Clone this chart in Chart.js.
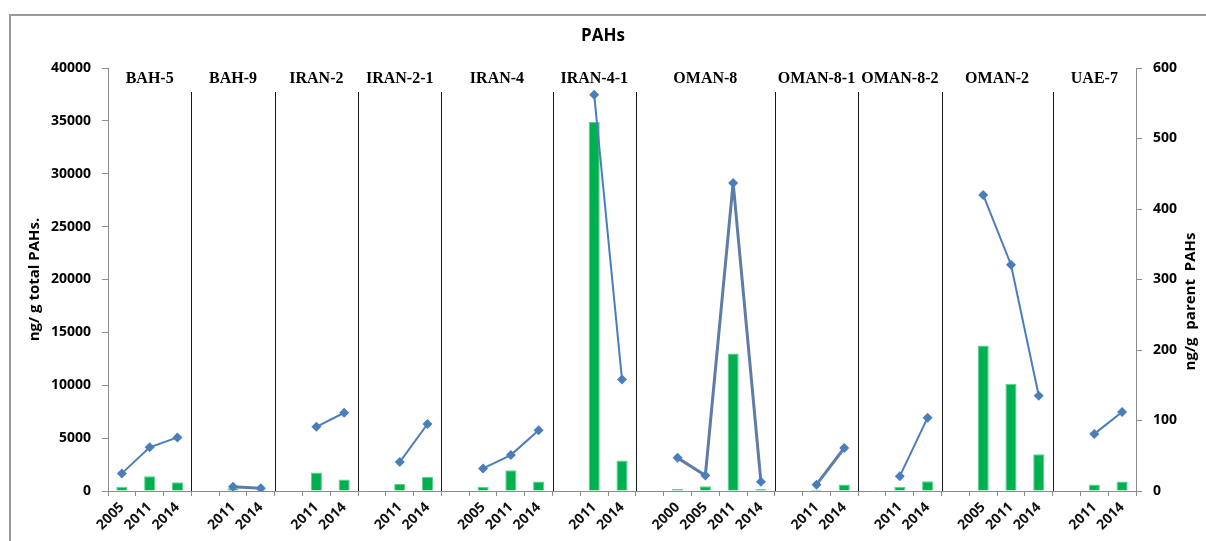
<!DOCTYPE html>
<html>
<head>
<meta charset="utf-8">
<title>PAHs</title>
<script src="https://cdn.jsdelivr.net/npm/chart.js@4.4.1/dist/chart.umd.min.js"></script>
<style>
  html, body { margin: 0; padding: 0; background: #fff; overflow: hidden; }
  #wrap { position: relative; width: 1206px; height: 541px; }
  #frame { position: absolute; left: 9px; top: 14px; width: 1400px; height: 700px;
           border-left: 2px solid #9a9a9a; border-top: 2px solid #9a9a9a; }
  #chart { position: absolute; left: 0; top: 0; }
</style>
</head>
<body>
<div id="wrap">
  <div id="frame"></div>
  <canvas id="chart" width="1206" height="541"></canvas>
</div>
<script>
// Sampling stations, in plotting order
const stations = ['BAH-5', 'BAH-9', 'IRAN-2', 'IRAN-2-1', 'IRAN-4', 'IRAN-4-1',
                  'OMAN-8', 'OMAN-8-1', 'OMAN-8-2', 'OMAN-2', 'UAE-7'];

// Survey years for each station
const years = [
  ['2005', '2011', '2014'],
  ['2011', '2014'],
  ['2011', '2014'],
  ['2011', '2014'],
  ['2005', '2011', '2014'],
  ['2011', '2014'],
  ['2000', '2005', '2011', '2014'],
  ['2011', '2014'],
  ['2011', '2014'],
  ['2005', '2011', '2014'],
  ['2011', '2014']
];

// Total PAHs, ng/g (bars, left axis)
const totalPAHs = [
  [400, 1400, 820],
  [250, 120],
  [1750, 1080],
  [660, 1330],
  [380, 1960, 890],
  [34900, 2880],
  [190, 450, 13000, 190],
  [130, 610],
  [380, 920],
  [13750, 10150, 3480],
  [610, 890]
];

// Parent PAHs, ng/g (line, right axis)
const parentPAHs = [
  [25, 62, 76],
  [6, 4],
  [91, 111],
  [41, 95],
  [32, 51, 86],
  [562, 158],
  [47, 22, 437, 13],
  [9, 61],
  [21, 104],
  [420, 321, 135],
  [81, 112]
];

// Axis tick settings
const leftTicks = { min: 0, max: 40000, step: 5000 };
const rightTicks = { min: 0, max: 600, step: 100 };

// Stations whose parent-PAH line is drawn with a greyer stroke
const greyLineStations = ['BAH-9', 'OMAN-8', 'OMAN-8-1'];

// Flatten groups into one category axis, with an empty slot before every group but the first
const labels = [];
const barData = [];
const lineData = [];
const groupOf = [];
const groupSpans = [];
stations.forEach((st, g) => {
  const start = labels.length;
  if (g > 0) { labels.push(''); barData.push(null); lineData.push(null); groupOf.push(g); }
  years[g].forEach((y, i) => {
    labels.push(y);
    barData.push(totalPAHs[g][i]);
    lineData.push(parentPAHs[g][i]);
    groupOf.push(g);
  });
  groupSpans.push({ name: st, first: start, last: labels.length - 1 });
});

const SANS = "'Open Sans', 'Liberation Sans', sans-serif";
const TICK_FONT = { family: SANS, size: 14, weight: 'bold' };
const X_FONT = { family: SANS, size: 14, weight: 'bold' };

// Station separators, station names and rotated axis titles
const stationPlugin = {
  id: 'stations',
  beforeDatasetsDraw(chart) {
    const { ctx, chartArea } = chart;
    const x = chart.scales.x;
    ctx.save();
    ctx.strokeStyle = '#1a1a1a';
    ctx.lineWidth = 1;
    for (let g = 0; g < groupSpans.length - 1; g++) {
      const idx = groupSpans[g].last;
      const px = Math.round((x.getPixelForValue(idx) + x.getPixelForValue(idx + 1)) / 2) + 0.5;
      ctx.beginPath();
      ctx.moveTo(px, chartArea.top + 24);
      ctx.lineTo(px, chartArea.bottom);
      ctx.stroke();
    }
    ctx.restore();
  },
  afterDraw(chart) {
    const { ctx, chartArea } = chart;
    const x = chart.scales.x;
    ctx.save();
    ctx.fillStyle = '#000';
    ctx.font = "bold 16px 'Liberation Serif', 'Times New Roman', serif";
    ctx.textAlign = 'center';
    ctx.textBaseline = 'middle';
    groupSpans.forEach(s => {
      const cx = (x.getPixelForValue(s.first) + x.getPixelForValue(s.last)) / 2;
      ctx.fillText(s.name, cx, chartArea.top + 11);
    });

    const midY = (chartArea.top + chartArea.bottom) / 2;
    ctx.font = 'bold 15px ' + SANS;
    ctx.save();
    ctx.translate(35, midY);
    ctx.rotate(-Math.PI / 2);
    ctx.fillText('ng/ g total PAHs.', 0, 0);
    ctx.restore();
    ctx.save();
    ctx.translate(1191, midY + 22);
    ctx.rotate(-Math.PI / 2);
    ctx.fillText('ng/g  parent  PAHs', 0, 0);
    ctx.restore();
    ctx.restore();
  }
};

const axisGrid = { drawOnChartArea: false, drawTicks: true, tickLength: 6, color: '#8c8c8c' };
const axisBorder = { display: true, color: '#8c8c8c', width: 1 };
const plainNumber = v => String(v);

new Chart(document.getElementById('chart'), {
  type: 'bar',
  data: {
    labels: labels,
    datasets: [
      {
        type: 'line',
        label: 'parent PAHs',
        data: lineData,
        yAxisID: 'y1',
        order: 0,
        spanGaps: false,
        borderColor: '#4a7ebb',
        backgroundColor: '#4a7ebb',
        borderWidth: 2,
        pointStyle: 'rectRot',
        pointRadius: 5,
        pointBorderWidth: 0,
        pointBackgroundColor: '#4a7ebb',
        segment: {
          borderColor: ctx => greyLineStations.includes(stations[groupOf[ctx.p0DataIndex]]) ? '#5d7da6' : '#4a7ebb',
          borderWidth: ctx => greyLineStations.includes(stations[groupOf[ctx.p0DataIndex]]) ? 3 : 2
        }
      },
      {
        type: 'bar',
        label: 'total PAHs',
        data: barData,
        yAxisID: 'y',
        order: 1,
        backgroundColor: '#00b050',
        borderColor: '#5fd08f',
        borderWidth: 1,
        categoryPercentage: 1,
        barPercentage: 0.4
      }
    ]
  },
  options: {
    responsive: false,
    animation: false,
    events: [],
    layout: { padding: 0 },
    plugins: {
      legend: { display: false },
      tooltip: { enabled: false },
      title: {
        display: true,
        text: 'PAHs',
        color: '#000',
        font: { family: SANS, size: 17, weight: 'bold' },
        padding: { top: 26, bottom: 21.6 }
      }
    },
    scales: {
      x: {
        offset: true,
        grid: { ...axisGrid, offset: true, tickLength: 5 },
        border: axisBorder,
        ticks: { autoSkip: false, maxRotation: 45, minRotation: 45, color: '#111', font: X_FONT, padding: 3 },
        afterFit(scale) { scale.height = 50; }
      },
      y: {
        position: 'left',
        min: leftTicks.min,
        max: leftTicks.max,
        grid: axisGrid,
        border: axisBorder,
        ticks: { stepSize: leftTicks.step, color: '#000', font: TICK_FONT, padding: 11, callback: plainNumber },
        afterFit(scale) { scale.width = 108; }
      },
      y1: {
        position: 'right',
        min: rightTicks.min,
        max: rightTicks.max,
        grid: axisGrid,
        border: axisBorder,
        ticks: { stepSize: rightTicks.step, color: '#000', font: TICK_FONT, padding: 11, callback: plainNumber },
        afterFit(scale) { scale.width = 70; }
      }
    }
  },
  plugins: [stationPlugin]
});
</script>
</body>
</html>
